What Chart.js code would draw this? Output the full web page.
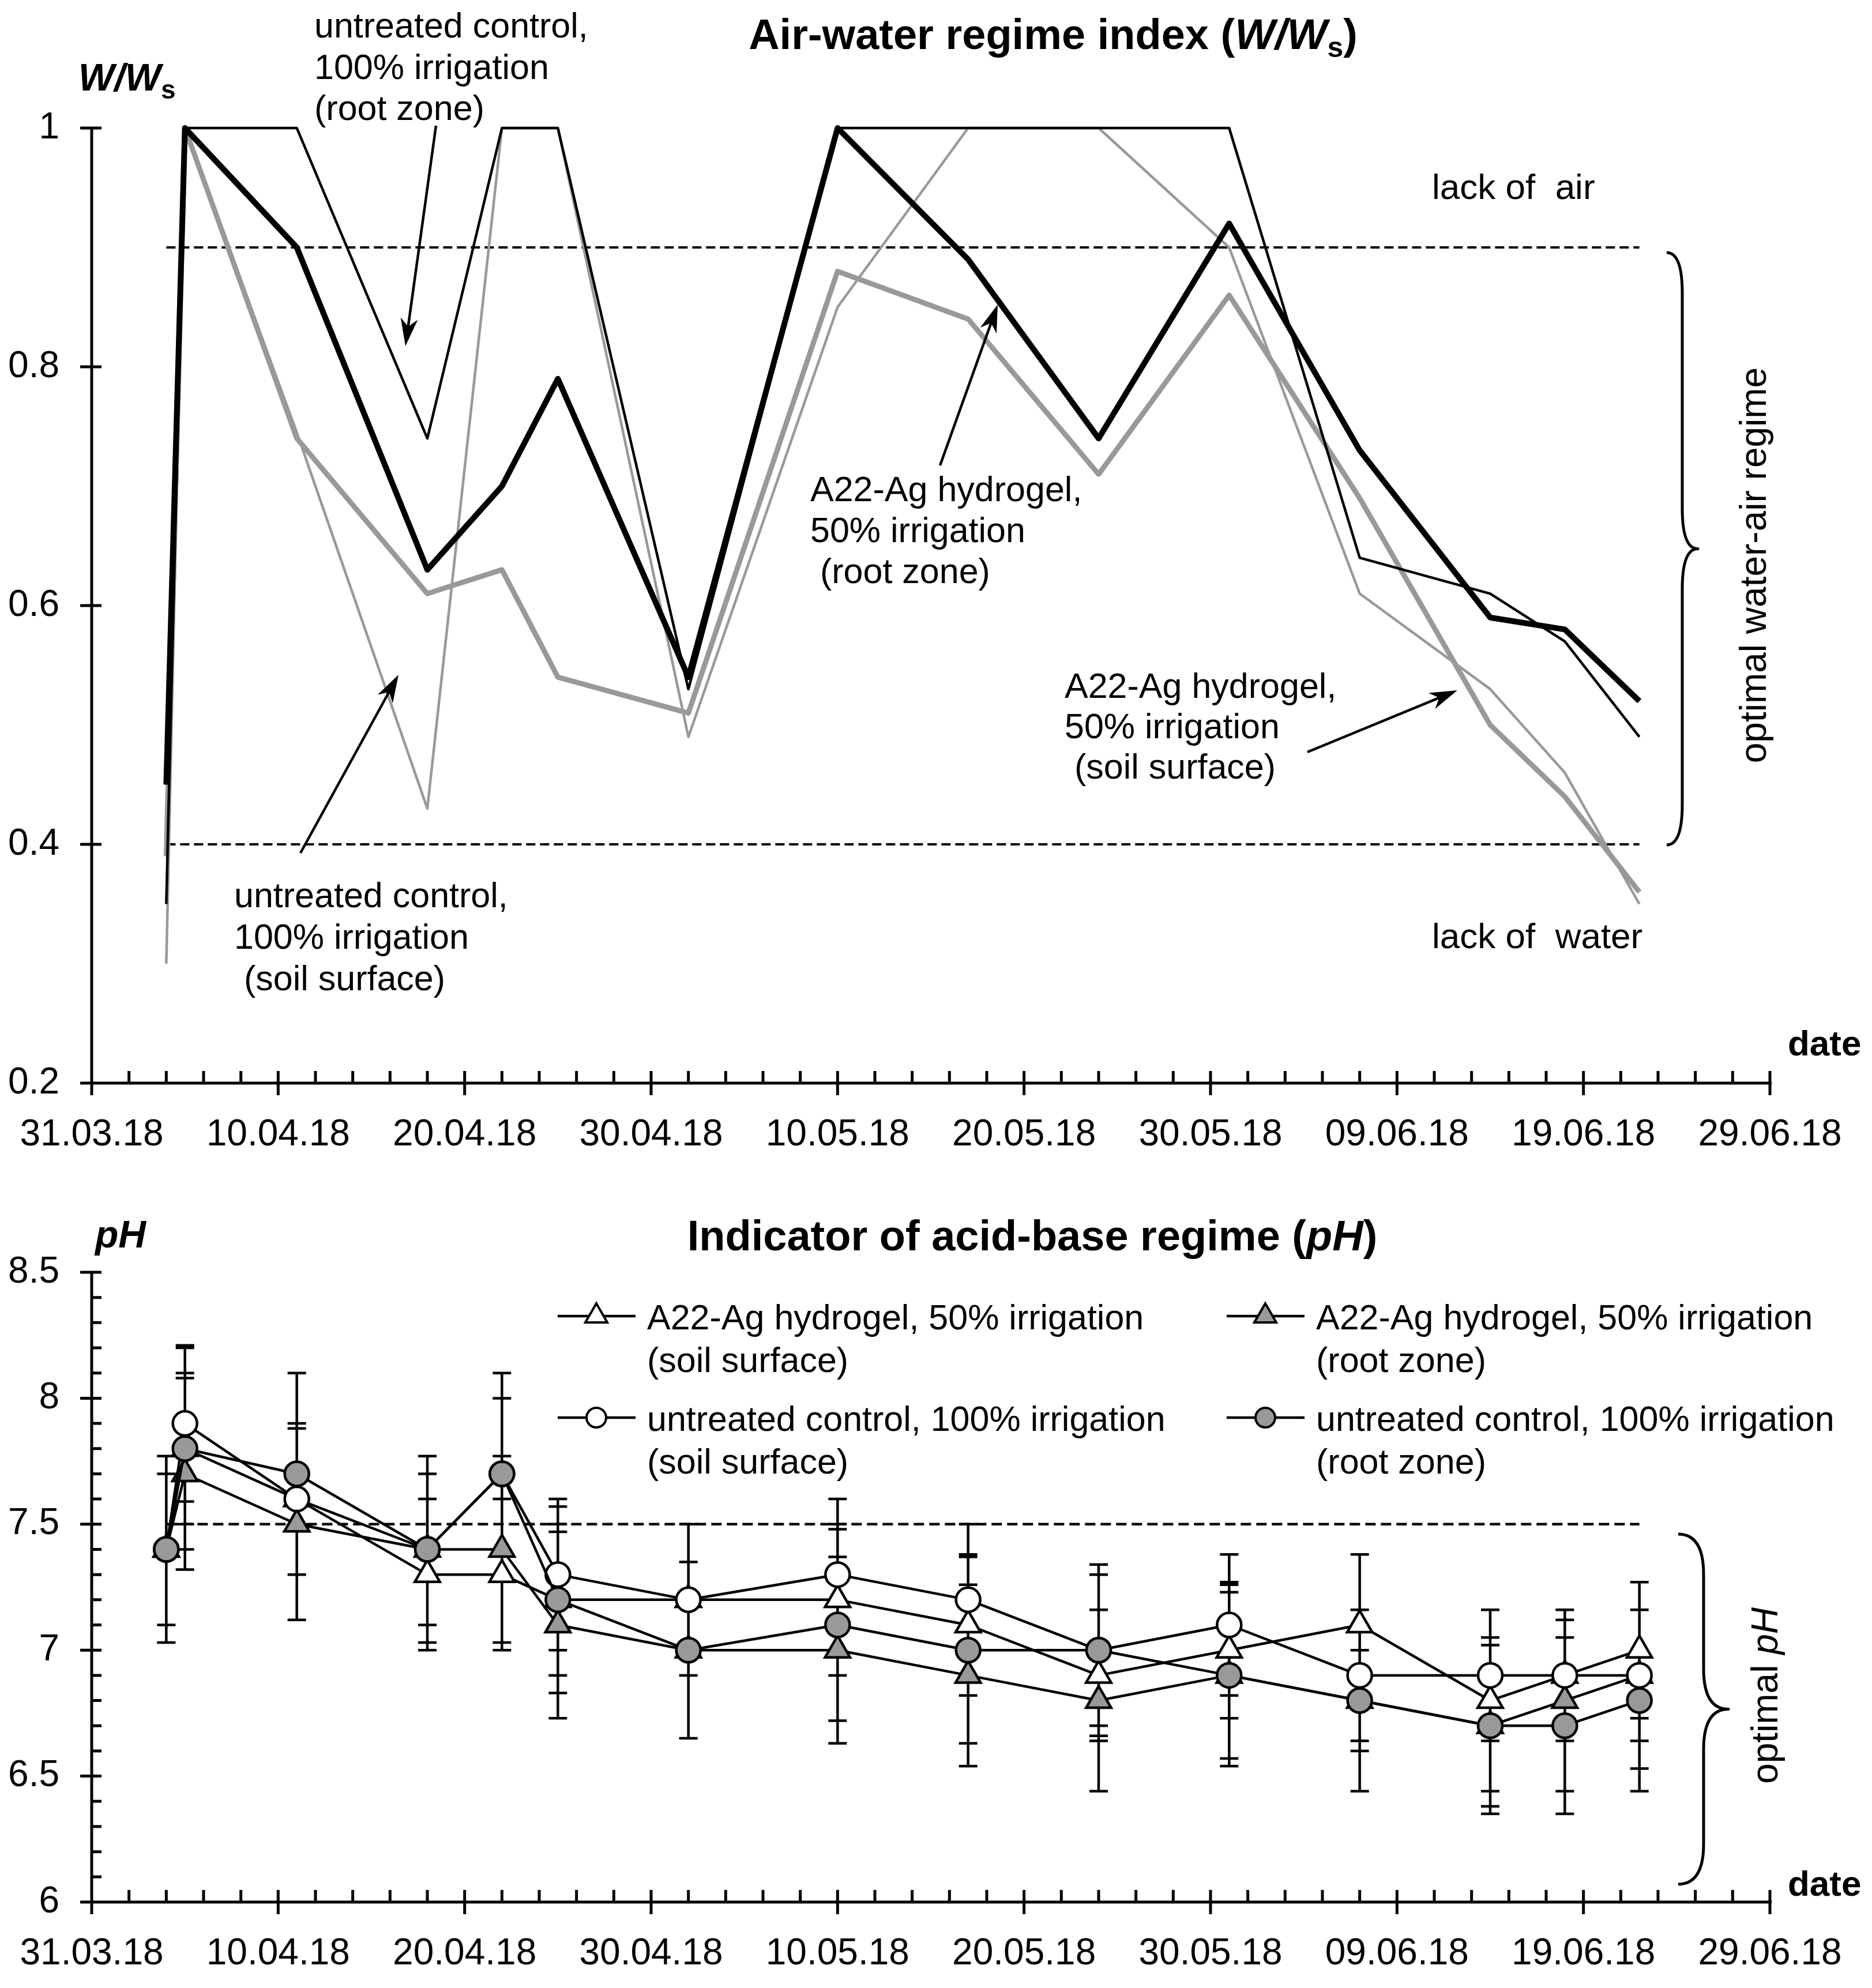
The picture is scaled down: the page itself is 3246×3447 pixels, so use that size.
<!DOCTYPE html>
<html><head><meta charset="utf-8">
<script src="https://cdn.jsdelivr.net/npm/chart.js@4.4.1/dist/chart.umd.min.js"></script>
<style>
html,body{margin:0;padding:0;background:#fff;}
#wrap{position:relative;width:3246px;height:3447px;background:#fff;overflow:hidden;}
.box{position:absolute;left:0;}
canvas{display:block;}
</style></head><body>
<div id="wrap">
  <div class="box" style="top:0;width:3246px;height:2060px"><canvas id="c1" width="3246" height="2060"></canvas></div>
  <div class="box" style="top:2060px;width:3246px;height:1387px"><canvas id="c2" width="3246" height="1387"></canvas></div>
</div>
<script>
// ---------------- DATA ----------------
const dates = ['04.04.18','05.04.18','11.04.18','18.04.18','22.04.18','25.04.18','02.05.18','10.05.18','17.05.18','24.05.18','31.05.18','07.06.18','14.06.18','18.06.18','22.06.18'];
const axisStart = '31.03.18';
const axisEnd = '29.06.18';
const xTickLabels = ['31.03.18','10.04.18','20.04.18','30.04.18','10.05.18','20.05.18','30.05.18','09.06.18','19.06.18','29.06.18'];

// Air-water regime index W/Ws
const wwControlRoot     = [0.35, 1.0, 1.0, 0.74, 1.0, 1.0, 0.53, 1.0, 1.0, 1.0, 1.0, 0.64, 0.61, 0.57, 0.49];
const wwHydrogelRoot    = [0.45, 1.0, 0.90, 0.63, 0.70, 0.79, 0.54, 1.0, 0.89, 0.74, 0.92, 0.73, 0.59, 0.58, 0.52];
const wwHydrogelSurface = [0.39, 1.0, 0.74, 0.61, 0.63, 0.54, 0.51, 0.88, 0.84, 0.71, 0.86, 0.69, 0.50, 0.44, 0.36];
const wwControlSurface  = [0.30, 1.0, 0.745, 0.43, 1.0, 1.0, 0.49, 0.85, 1.0, 1.0, 0.90, 0.61, 0.53, 0.46, 0.35];
const wwLackOfAir = 0.9;
const wwLackOfWater = 0.4;
const wwTicks = [0.2, 0.4, 0.6, 0.8, 1];

// pH
const phHydrogelSurface    = [7.4, 7.8, 7.6, 7.3, 7.3, 7.2, 7.2, 7.2, 7.1, 6.9, 7.0, 7.1, 6.8, 6.9, 7.0];
const phHydrogelSurfaceErr = [0.30, 0.30, 0.30, 0.30, 0.30, 0.37, 0.30, 0.30, 0.28, 0.26, 0.27, 0.28, 0.36, 0.22, 0.27];
const phHydrogelRoot       = [7.4, 7.7, 7.5, 7.4, 7.4, 7.1, 7.0, 7.0, 6.9, 6.8, 6.9, 6.8, 6.7, 6.8, 6.9];
const phHydrogelRootErr    = [0.37, 0.38, 0.38, 0.30, 0.37, 0.37, 0.35, 0.37, 0.36, 0.36, 0.33, 0.20, 0.32, 0.36, 0.37];
const phControlSurface     = [7.4, 7.9, 7.6, 7.4, 7.7, 7.3, 7.2, 7.3, 7.2, 7.0, 7.1, 6.9, 6.9, 6.9, 6.9];
const phControlSurfaceErr  = [0.30, 0.31, 0.30, 0.30, 0.30, 0.30, 0.30, 0.30, 0.30, 0.30, 0.28, 0.26, 0.26, 0.26, 0.26];
const phControlRoot        = [7.4, 7.8, 7.7, 7.4, 7.7, 7.2, 7.0, 7.1, 7.0, 7.0, 6.9, 6.8, 6.7, 6.7, 6.8];
const phControlRootErr     = [0.37, 0.40, 0.40, 0.37, 0.40, 0.30, 0.35, 0.38, 0.37, 0.34, 0.36, 0.36, 0.35, 0.35, 0.36];
const phOptimalMax = 7.5;
const phTicks = [6, 6.5, 7, 7.5, 8, 8.5];
const phNames = ['A22-Ag hydrogel, 50% irrigation|(soil surface)', 'A22-Ag hydrogel, 50% irrigation|(root zone)',
                 'untreated control, 100% irrigation|(soil surface)', 'untreated control, 100% irrigation|(root zone)'];

// ---------------- HELPERS ----------------
const F = "'Liberation Sans', Arial, sans-serif";
Chart.defaults.font.family = F;
Chart.defaults.color = '#000';
function dayNum(s){ const p = s.split('.').map(Number); return Math.round((Date.UTC(2000+p[2], p[1]-1, p[0]) - Date.UTC(2018,2,31))/86400000); }
const xs = dates.map(dayNum);
const pts = arr => arr.map((v,i)=>({x: xs[i], y: v}));
const hline = v => [{x: xs[0], y: v}, {x: xs[xs.length-1], y: v}];
const GRAY = '#999999';

function xScale(h){
  return { type:'linear', min: dayNum(axisStart), max: dayNum(axisEnd),
    afterFit: s => { s.height = h; s.paddingLeft = 0; s.paddingRight = 0; },
    afterBuildTicks: s => { s.ticks = xTickLabels.map(t => ({value: dayNum(t)})); },
    grid:{display:false, drawTicks:false}, border:{display:false},
    ticks:{autoSkip:false, maxRotation:0, minRotation:0, padding:52, font:{size:64}, color:'#000',
      callback: (v, i) => xTickLabels[i] } };
}
function yScale(min, max, tickArr){
  return { type:'linear', min, max,
    afterFit: s => { s.width = 159; s.paddingTop = 0; s.paddingBottom = 0; },
    afterBuildTicks: s => { s.ticks = tickArr.map(v => ({value: v})); },
    grid:{display:false, drawTicks:false}, border:{display:false},
    ticks:{padding:56, font:{size:64}, color:'#000', callback: v => String(v) } };
}
function drawAxes(chart, yMinor){
  const {ctx, chartArea:a, scales:{x, y}} = chart;
  ctx.save(); ctx.strokeStyle = '#000'; ctx.lineWidth = 5; ctx.lineCap = 'butt';
  ctx.beginPath();
  ctx.moveTo(a.left, a.top - 2); ctx.lineTo(a.left, a.bottom);
  ctx.moveTo(a.left, a.bottom); ctx.lineTo(a.right + 3, a.bottom);
  for (let d = x.min; d <= x.max; d += 2) {
    const px = x.getPixelForValue(d);
    const major = xTickLabels.some(t => dayNum(t) === d);
    ctx.moveTo(px, a.bottom - 21); ctx.lineTo(px, a.bottom + (major ? 21 : 0));
  }
  y.ticks.forEach(t => { const py = y.getPixelForValue(t.value); ctx.moveTo(a.left - 20, py); ctx.lineTo(a.left + 17, py); });
  if (yMinor) {
    const n = Math.round((y.max - y.min) / yMinor);
    for (let i = 0; i <= n; i++) { const py = y.getPixelForValue(y.min + i * yMinor); ctx.moveTo(a.left, py); ctx.lineTo(a.left + 17, py); }
  }
  ctx.stroke(); ctx.restore();
}
function rich(ctx, x, y, parts, align){
  ctx.textAlign = 'left';
  let w = 0; parts.forEach(p => { ctx.font = p[1]; w += ctx.measureText(p[0]).width; });
  let cx = align === 'center' ? x - w/2 : x;
  parts.forEach(p => { ctx.font = p[1]; ctx.fillText(p[0], cx, y + (p[2] || 0)); cx += ctx.measureText(p[0]).width; });
}
function lines(ctx, x, ys, texts, font){
  ctx.font = font; ctx.textAlign = 'left'; ctx.textBaseline = 'alphabetic';
  texts.forEach((t, i) => ctx.fillText(t, x, ys[i]));
}
function arrow(ctx, x1, y1, x2, y2){
  const ang = Math.atan2(y2 - y1, x2 - x1), L = 48, W = 15, N = 14;
  const c = Math.cos(ang), s = Math.sin(ang);
  ctx.save(); ctx.strokeStyle = '#000'; ctx.fillStyle = '#000'; ctx.lineWidth = 4.5;
  ctx.beginPath(); ctx.moveTo(x1, y1); ctx.lineTo(x2 - c*(L-N), y2 - s*(L-N)); ctx.stroke();
  ctx.beginPath();
  ctx.moveTo(x2, y2);
  ctx.lineTo(x2 - c*L - s*W, y2 - s*L + c*W);
  ctx.lineTo(x2 - c*(L-N), y2 - s*(L-N));
  ctx.lineTo(x2 - c*L + s*W, y2 - s*L - c*W);
  ctx.closePath(); ctx.fill(); ctx.restore();
}
function brace(ctx, xEnd, xV, xTip, yTop, yBot, r){
  const yMid = (yTop + yBot) / 2;
  ctx.save(); ctx.strokeStyle = '#000'; ctx.lineWidth = 5; ctx.lineJoin = 'round';
  ctx.beginPath();
  ctx.moveTo(xEnd, yTop);
  ctx.quadraticCurveTo(xV, yTop, xV, yTop + r);
  ctx.lineTo(xV, yMid - r);
  ctx.quadraticCurveTo(xV, yMid, xTip, yMid);
  ctx.quadraticCurveTo(xV, yMid, xV, yMid + r);
  ctx.lineTo(xV, yBot - r);
  ctx.quadraticCurveTo(xV, yBot, xEnd, yBot);
  ctx.stroke(); ctx.restore();
}
function rotated(ctx, cx, cy, parts){
  ctx.save(); ctx.translate(cx, cy); ctx.rotate(-Math.PI/2); ctx.textBaseline = 'middle';
  rich(ctx, 0, 0, parts, 'center'); ctx.restore();
}

// ---------------- CHART 1 ----------------
const topDecor = {
  id: 'topDecor',
  beforeDatasetsDraw(chart){ drawAxes(chart, null); },
  afterDraw(chart){
    const ctx = chart.ctx;
    ctx.save(); ctx.fillStyle = '#000'; ctx.textBaseline = 'alphabetic';
    rich(ctx, 1826, 85, [['Air-water regime index (', 'bold 74px ' + F], ['W/W', 'italic bold 74px ' + F], ['s', 'bold 50px ' + F, 14], [')', 'bold 74px ' + F]], 'center');
    rich(ctx, 136, 157, [['W/W', 'italic bold 66px ' + F], ['s', 'bold 46px ' + F, 14]], 'left');
    const af = '61px ' + F;
    lines(ctx, 545, [65, 137, 208], ['untreated control,', '100% irrigation', '(root zone)'], af);
    lines(ctx, 406, [1573, 1645, 1717], ['untreated control,', '100% irrigation', ' (soil surface)'], af);
    lines(ctx, 1405, [869, 940, 1011], ['A22-Ag hydrogel,', '50% irrigation', ' (root zone)'], af);
    lines(ctx, 1846, [1210, 1280, 1350], ['A22-Ag hydrogel,', '50% irrigation', ' (soil surface)'], af);
    lines(ctx, 2483, [345], ['lack of  air'], '62px ' + F);
    lines(ctx, 2483, [1644], ['lack of  water'], '62px ' + F);
    lines(ctx, 3100, [1830], ['date'], 'bold 62px ' + F);
    arrow(ctx, 756, 218, 703, 600);
    arrow(ctx, 521, 1479, 691, 1170);
    arrow(ctx, 1630, 807, 1730, 528);
    arrow(ctx, 2267, 1304, 2527, 1197);
    brace(ctx, 2890, 2917, 2944, 438, 1465, 70);
    rotated(ctx, 3044, 980, [['optimal water-air regime', '64px ' + F]]);
    ctx.restore();
  }
};

new Chart(document.getElementById('c1'), {
  type: 'line',
  data: { datasets: [
    { label: 'A22-Ag hydrogel, 50% irrigation (root zone)', data: pts(wwHydrogelRoot), borderColor: '#000', borderWidth: 10, order: 0 },
    { label: 'untreated control, 100% irrigation (root zone)', data: pts(wwControlRoot), borderColor: '#000', borderWidth: 4.5, order: 1 },
    { label: 'A22-Ag hydrogel, 50% irrigation (soil surface)', data: pts(wwHydrogelSurface), borderColor: GRAY, borderWidth: 9, order: 2 },
    { label: 'untreated control, 100% irrigation (soil surface)', data: pts(wwControlSurface), borderColor: GRAY, borderWidth: 4.5, order: 3 },
    { label: 'lack of air', data: hline(wwLackOfAir), borderColor: '#000', borderWidth: 4, borderDash: [16, 8], order: 4 },
    { label: 'lack of water', data: hline(wwLackOfWater), borderColor: '#000', borderWidth: 4, borderDash: [16, 8], order: 5 }
  ].map(d => Object.assign({ pointRadius: 0, fill: false, tension: 0, clip: false, borderJoinStyle: 'round', borderCapStyle: 'butt' }, d)) },
  options: {
    responsive: false, animation: false, devicePixelRatio: 1,
    layout: { padding: { top: 222, right: 177, left: 0, bottom: 0 } },
    plugins: { legend: { display: false }, title: { display: false }, tooltip: { enabled: false } },
    scales: { x: xScale(182), y: yScale(0.2, 1, wwTicks) }
  },
  plugins: [topDecor]
});

// ---------------- CHART 2 ----------------
const phSeries = [
  { name: phNames[0], data: phHydrogelSurface, err: phHydrogelSurfaceErr, style: 'triangle', fill: '#ffffff', r: 25, lr: 22, order: 3 },
  { name: phNames[1], data: phHydrogelRoot,    err: phHydrogelRootErr,    style: 'triangle', fill: GRAY,      r: 25, lr: 22, order: 2 },
  { name: phNames[2], data: phControlSurface,  err: phControlSurfaceErr,  style: 'circle',   fill: '#ffffff', r: 21, lr: 17, order: 1 },
  { name: phNames[3], data: phControlRoot,     err: phControlRootErr,     style: 'circle',   fill: GRAY,      r: 21, lr: 17, order: 0 }
];

const botDecor = {
  id: 'botDecor',
  beforeDatasetsDraw(chart){
    drawAxes(chart, 0.1);
    const {ctx, scales:{x, y}} = chart;
    ctx.save(); ctx.strokeStyle = '#000'; ctx.lineWidth = 4.5; ctx.lineCap = 'butt';
    ctx.beginPath();
    phSeries.forEach(s => {
      s.data.forEach((v, i) => {
        const px = x.getPixelForValue(xs[i]);
        const yt = y.getPixelForValue(v + s.err[i]), yb = y.getPixelForValue(v - s.err[i]);
        ctx.moveTo(px, yt); ctx.lineTo(px, yb);
        ctx.moveTo(px - 16, yt); ctx.lineTo(px + 16, yt);
        ctx.moveTo(px - 16, yb); ctx.lineTo(px + 16, yb);
      });
    });
    ctx.stroke(); ctx.restore();
  },
  afterDraw(chart){
    const ctx = chart.ctx;
    ctx.save(); ctx.fillStyle = '#000'; ctx.textBaseline = 'alphabetic';
    rich(ctx, 1790, 108, [['Indicator of acid-base regime (', 'bold 74px ' + F], ['pH', 'italic bold 74px ' + F], [')', 'bold 74px ' + F]], 'center');
    rich(ctx, 165, 103, [['pH', 'italic bold 66px ' + F]], 'left');
    lines(ctx, 3100, [1227], ['date'], 'bold 62px ' + F);
    brace(ctx, 2910, 2954, 2997, 600, 1207, 70);
    rotated(ctx, 3064, 880, [['optimal ', '64px ' + F], ['pH', 'italic 64px ' + F]]);
    // legend
    const cols = [967, 2127], rows = [228, 404];
    phSeries.forEach((s, k) => {
      const lx = cols[k % 2], ly = rows[Math.floor(k / 2)];
      ctx.strokeStyle = '#000'; ctx.lineWidth = 4.5;
      ctx.beginPath(); ctx.moveTo(lx, ly - 6); ctx.lineTo(lx + 135, ly - 6); ctx.stroke();
      ctx.fillStyle = s.fill; ctx.strokeStyle = '#000'; ctx.lineWidth = 4;
      Chart.helpers.drawPoint(ctx, { pointStyle: s.style, radius: s.lr, rotation: 0, borderWidth: 4 }, lx + 67, ly - 6);
      ctx.fillStyle = '#000'; ctx.font = '61px ' + F; ctx.textAlign = 'left'; ctx.textBaseline = 'middle';
      s.name.split('|').forEach((t, j) => ctx.fillText(t, lx + 155, ly + j * 74));
    });
    ctx.restore();
  }
};

new Chart(document.getElementById('c2'), {
  type: 'line',
  data: { datasets: phSeries.map(s => ({
      label: s.name.replace('|', ' '), data: pts(s.data), borderColor: '#000', borderWidth: 4.5,
      pointStyle: s.style, pointRadius: s.r, pointBackgroundColor: s.fill, pointBorderColor: '#000', pointBorderWidth: 4.5,
      fill: false, tension: 0, clip: false, order: s.order, borderJoinStyle: 'round'
    })).concat([{ label: 'optimal pH limit', data: hline(phOptimalMax), borderColor: '#000', borderWidth: 4.5, borderDash: [18, 9],
      pointRadius: 0, fill: false, clip: false, order: 9 }]) },
  options: {
    responsive: false, animation: false, devicePixelRatio: 1,
    layout: { padding: { top: 146, right: 177, left: 0, bottom: 0 } },
    plugins: { legend: { display: false }, title: { display: false }, tooltip: { enabled: false } },
    scales: { x: xScale(149), y: yScale(6, 8.5, phTicks) }
  },
  plugins: [botDecor]
});
</script>
</body></html>
